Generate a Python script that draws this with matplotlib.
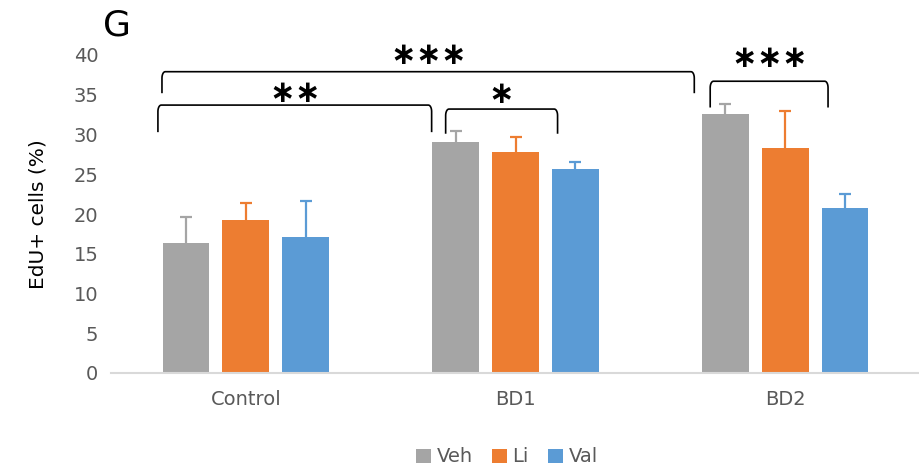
import matplotlib
matplotlib.use('Agg')
import matplotlib.pyplot as plt
import numpy as np

groups = ['Control', 'BD1', 'BD2']
series = ['Veh', 'Li', 'Val']
veh = [16.35, 29.1, 32.6]
li = [19.25, 27.8, 28.3]
val = [17.1, 25.7, 20.75]
veh_err = [3.25, 1.3, 1.2]
li_err = [2.15, 1.9, 4.7]
val_err = [4.5, 0.9, 1.75]
colors = ['#A5A5A5', '#ED7D31', '#5B9BD5']

# brackets: x left, x right, y top, y legs, number of stars, star height
brackets = [
    (-0.326, 0.689, 33.7, 30.4, 2, 35.2),
    (-0.311, 1.663, 37.9, 35.3, 3, 40.0),
    (0.741, 1.156, 33.2, 30.2, 1, 35.0),
    (1.722, 2.159, 36.7, 33.5, 3, 39.6),
]

plt.rcParams['font.family'] = ['DejaVu Sans']

fig = plt.figure(figsize=(9.2, 4.7), dpi=100)
ax = fig.add_axes([111/920, 97/470, 1 - 111/920, (373-55)/470])

x = np.arange(len(groups))
width = 0.174
step = 0.222
vals = [veh, li, val]
errs = [veh_err, li_err, val_err]
for i in range(3):
    xs = x + (i - 1) * step
    ax.bar(xs, vals[i], width, color=colors[i], label=series[i], zorder=2)
    eb = ax.errorbar(xs, vals[i], yerr=[np.zeros(3), errs[i]], fmt='none',
                     ecolor=colors[i], elinewidth=1.6, capsize=4.5, capthick=1.6, zorder=1)
    eb[1][0].set_visible(False)  # hide lower caps

ax.set_xlim(-0.5, 2.5)
ax.set_ylim(0, 40)
ax.set_yticks(range(0, 41, 5))
ax.set_xticks(x)
ax.set_xticklabels(groups)
ax.tick_params(axis='both', length=0, colors='#595959', labelsize=14)
ax.tick_params(axis='x', pad=12)
ax.tick_params(axis='y', pad=9)
for s in ['top', 'right', 'left']:
    ax.spines[s].set_visible(False)
ax.spines['bottom'].set_color('#D9D9D9')
ax.spines['bottom'].set_linewidth(1.5)
ax.set_ylabel('EdU+ cells (%)', fontsize=14.5, labelpad=19)

# significance brackets with small rounded corners
rx, ry = 0.012, 0.8
for x0, x1, ytop, yleg, n, ys in brackets:
    tl = np.linspace(np.pi, np.pi/2, 8)
    tr = np.linspace(np.pi/2, 0, 8)
    left_c = np.column_stack([x0 + rx + rx*np.cos(tl), ytop - ry + ry*np.sin(tl)])
    right_c = np.column_stack([x1 - rx + rx*np.cos(tr), ytop - ry + ry*np.sin(tr)])
    pts = np.vstack([[x0, yleg], left_c, right_c, [x1, yleg]])
    ax.plot(pts[:, 0], pts[:, 1], color='black', lw=1.2, clip_on=False)
    xc = (x0 + x1) / 2
    for k in range(n):
        ax.text(xc + (k - (n - 1) / 2) * 0.093, ys, '\u2217', ha='center',
                va='center', fontsize=22, fontweight='bold', clip_on=False)

fig.text(103/920, 1 - 26/470, 'G', fontsize=26, va='center', ha='left')

fig.legend(loc='center', bbox_to_anchor=(507/920, 1 - 457/470), ncol=3,
           frameon=False, fontsize=14, handlelength=0.75, handleheight=0.75,
           handletextpad=0.3, columnspacing=1.0, labelcolor='#595959')

fig.savefig('out.png', dpi=100)
